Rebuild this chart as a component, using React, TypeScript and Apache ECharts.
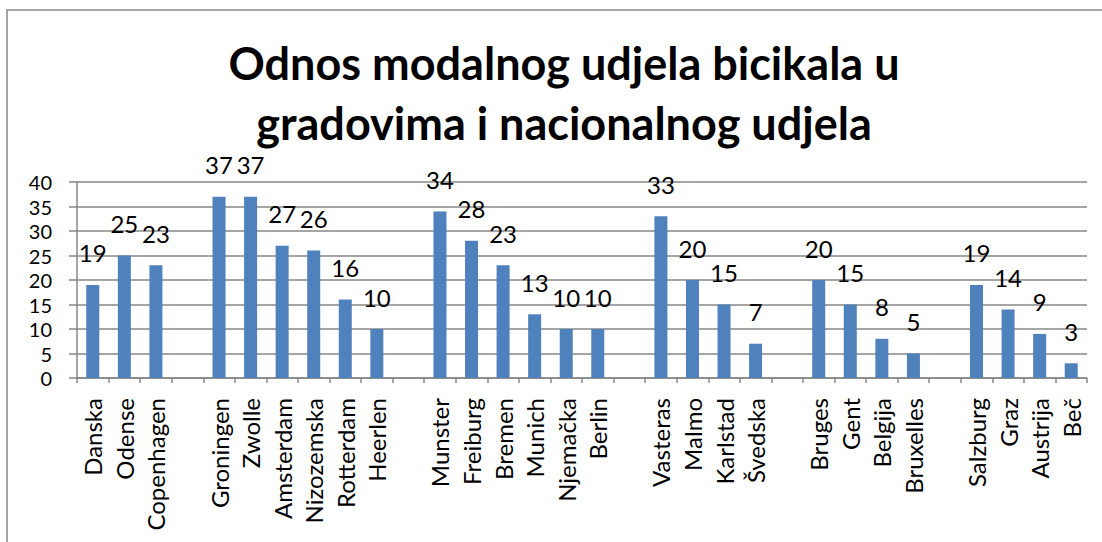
import React, { useEffect, useRef } from "react";
import * as echarts from "echarts";

const TITLE = "Odnos modalnog udjela bicikala u\ngradovima i nacionalnog udjela";

const categories: string[] = [
  "Danska", "Odense", "Copenhagen", "",
  "Groningen", "Zwolle", "Amsterdam", "Nizozemska", "Rotterdam", "Heerlen", "",
  "Munster", "Freiburg", "Bremen", "Munich", "Njemačka", "Berlin", "",
  "Vasteras", "Malmo", "Karlstad", "Švedska", "",
  "Bruges", "Gent", "Belgija", "Bruxelles", "",
  "Salzburg", "Graz", "Austrija", "Beč",
];

const values: (number | null)[] = [
  19, 25, 23, null,
  37, 37, 27, 26, 16, 10, null,
  34, 28, 23, 13, 10, 10, null,
  33, 20, 15, 7, null,
  20, 15, 8, 5, null,
  19, 14, 9, 3,
];

const yTicks = { min: 0, max: 40, interval: 5 };

const FONT = "Lato, 'Liberation Sans', sans-serif";
const GRAY = "#878787";

export default function App() {
  const ref = useRef<HTMLDivElement>(null);
  useEffect(() => {
    document.body.style.margin = "0";
    if (!ref.current) return;
    const chart = echarts.init(ref.current, null, { renderer: "svg" });
    chart.setOption({
      animation: false,
      backgroundColor: "#ffffff",
      title: {
        text: TITLE,
        left: 559,
        textAlign: "center",
        top: 28,
        textStyle: {
          fontFamily: FONT,
          fontWeight: "bold",
          fontSize: 45,
          lineHeight: 60,
          color: "#000000",
        },
      },
      graphic: [
        {
          type: "rect",
          shape: { x: 7, y: 10, width: 1200, height: 700 },
          style: { fill: "none", stroke: GRAY, lineWidth: 1.5 },
          silent: true,
          z: -1,
        },
      ],
      grid: { left: 77, right: 15, top: 182, bottom: 164, containLabel: false },
      xAxis: {
        type: "category",
        data: categories,
        axisLine: { show: true, lineStyle: { color: GRAY, width: 1.5 } },
        axisTick: { show: true, interval: 0, length: 5, lineStyle: { color: GRAY, width: 1.5 } },
        axisLabel: {
          interval: 0,
          rotate: 90,
          margin: 20,
          color: "#000000",
          fontFamily: FONT,
          fontSize: 24,
        },
      },
      yAxis: {
        type: "value",
        min: yTicks.min,
        max: yTicks.max,
        interval: yTicks.interval,
        axisLine: { show: true, lineStyle: { color: GRAY, width: 1.5 } },
        axisTick: { show: true, length: 8, lineStyle: { color: GRAY, width: 1.5 } },
        splitLine: { show: true, lineStyle: { color: GRAY, width: 1.5 } },
        axisLabel: {
          margin: 25,
          color: "#000000",
          fontFamily: FONT,
          fontSize: 20,
        },
      },
      series: [
        {
          type: "bar",
          data: values,
          barWidth: 13,
          itemStyle: { color: "#4F81BD" },
          label: {
            show: true,
            position: "top",
            distance: 20,
            color: "#000000",
            fontFamily: FONT,
            fontSize: 24,
          },
        },
      ],
    });
    return () => chart.dispose();
  }, []);
  return <div ref={ref} style={{ width: 1102, height: 542 }} />;
}
